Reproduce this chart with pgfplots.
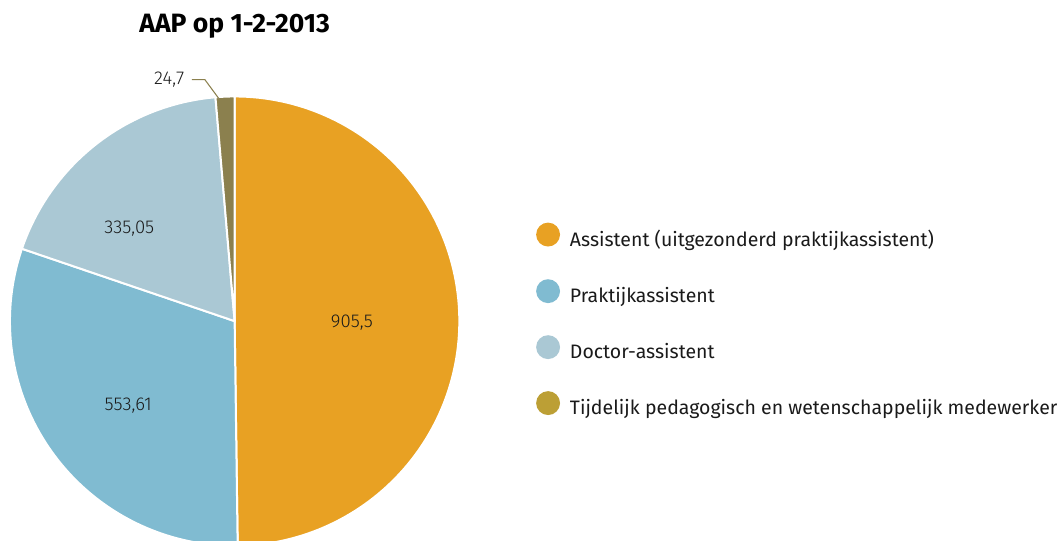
\documentclass[border=0pt]{standalone}
\usepackage{pgfplots}
\pgfplotsset{compat=1.18}
\usepackage{fontspec}
\setmainfont{Fira Sans}
\newfontfamily\lightf{Fira Sans Light}
\definecolor{cA}{HTML}{E8A123}
\definecolor{cB}{HTML}{80BBD1}
\definecolor{cC}{HTML}{AAC8D4}
\definecolor{cD}{HTML}{8B804E}
\definecolor{cDleg}{HTML}{BC9F35}
\definecolor{txt}{HTML}{1A1A1A}
% values
\def\vA{905.5}
\def\vB{553.61}
\def\vC{335.05}
\def\vD{24.7}
\pgfmathsetmacro{\tot}{\vA+\vB+\vC+\vD}
\pgfmathsetmacro{\aA}{90}
\pgfmathsetmacro{\aB}{\aA-\vA/\tot*360}
\pgfmathsetmacro{\aC}{\aB-\vB/\tot*360}
\pgfmathsetmacro{\aD}{\aC-\vC/\tot*360}
\pgfmathsetmacro{\aE}{\aD-\vD/\tot*360}
\def\cx{236}\def\cy{221}\def\R{226}
\begin{document}
\begin{tikzpicture}
\begin{axis}[
  width=798pt, height=408pt, scale only axis,
  xmin=0, xmax=1064, ymin=0, ymax=544,
  hide axis, clip=true,
  legend cell align=left,
  legend style={draw=none, fill=none, at={(axis cs:535,323)}, anchor=north west,
    font=\fontsize{14.7}{17.5}\selectfont\color{txt}, row sep=21pt,
    /tikz/every odd column/.append style={column sep=5.5pt}},
]
\path (rel axis cs:0,0) rectangle (rel axis cs:1,1);
\addplot[fill=cA, draw=white, line width=1.5pt, domain=\aB:\aA, samples=120,
  legend image code/.code={\fill[cA] (8.25pt,0) circle (8.25pt);}]
  ({\cx+\R*cos(x)},{\cy+\R*sin(x)}) -- (axis cs:\cx,\cy) -- cycle;
\addlegendentry{Assistent (uitgezonderd praktijkassistent)}
\addplot[fill=cB, draw=white, line width=1.5pt, domain=\aC:\aB, samples=80,
  legend image code/.code={\fill[cB] (8.25pt,0) circle (8.25pt);}]
  ({\cx+\R*cos(x)},{\cy+\R*sin(x)}) -- (axis cs:\cx,\cy) -- cycle;
\addlegendentry{Praktijkassistent}
\addplot[fill=cC, draw=white, line width=1.5pt, domain=\aD:\aC, samples=50,
  legend image code/.code={\fill[cC] (8.25pt,0) circle (8.25pt);}]
  ({\cx+\R*cos(x)},{\cy+\R*sin(x)}) -- (axis cs:\cx,\cy) -- cycle;
\addlegendentry{Doctor-assistent}
\addplot[fill=cD, draw=white, line width=1.5pt, domain=\aE:\aD, samples=8,
  legend image code/.code={\fill[cDleg] (8.25pt,0) circle (8.25pt);}]
  ({\cx+\R*cos(x)},{\cy+\R*sin(x)}) -- (axis cs:\cx,\cy) -- cycle;
\addlegendentry{Tijdelijk pedagogisch en wetenschappelijk medewerker}
% leader line
\addplot[cD, line width=0.8pt, forget plot] coordinates {(193,464) (206,464) (220,445)};
% labels
\node[font=\lightf\fontsize{14}{16}\selectfont, text=txt] at (axis cs:354,219) {905,5};
\node[font=\lightf\fontsize{14}{16}\selectfont, text=txt] at (axis cs:129,136) {553,61};
\node[font=\lightf\fontsize{14}{16}\selectfont, text=txt] at (axis cs:130,314) {335,05};
\node[font=\lightf\fontsize{14}{16}\selectfont, text=txt, anchor=east] at (axis cs:190,464) {24,7};
% title
\node[font=\fontsize{20}{24}\selectfont\bfseries, text=black] at (axis cs:236,518) {AAP op 1-2-2013};
\end{axis}
\end{tikzpicture}
\end{document}
